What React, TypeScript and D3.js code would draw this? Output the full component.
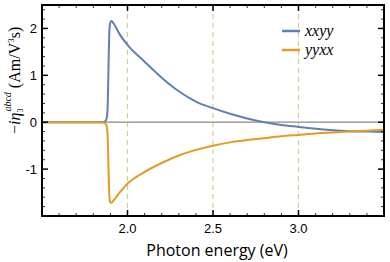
import { useEffect, useRef } from "react";
import * as d3 from "d3";

// photon energy (eV) and the two tensor components
const energy = [1.5, 1.7, 1.84, 1.86, 1.872, 1.88, 1.885, 1.889, 1.893, 1.898, 1.905, 1.92, 1.95, 2.0, 2.1, 2.2, 2.3, 2.4, 2.5, 2.6, 2.7, 2.8, 2.9, 3.0, 3.1, 3.2, 3.3, 3.4, 3.5];
const xxyy = [0, 0, 0, 0.005, 0.03, 0.12, 0.45, 1.2, 1.85, 2.1, 2.16, 2.1, 1.9, 1.65, 1.29, 0.95, 0.66, 0.44, 0.3, 0.18, 0.08, 0.0, -0.06, -0.1, -0.14, -0.17, -0.19, -0.2, -0.21];
const yyxx = [0, 0, 0, -0.005, -0.03, -0.12, -0.4, -1.0, -1.5, -1.7, -1.72, -1.66, -1.52, -1.31, -1.06, -0.87, -0.71, -0.59, -0.5, -0.43, -0.38, -0.34, -0.3, -0.27, -0.24, -0.22, -0.2, -0.18, -0.16];

const xTicks = [2.0, 2.5, 3.0];
const yTicks = [-1, 0, 1, 2];
const legendNames = ["xxyy", "yyxx"];
const colors = ["#5e81b5", "#e19c24"];

export default function App() {
  const ref = useRef<SVGSVGElement | null>(null);
  const width = 390;
  const height = 262;
  const m = { top: 5, right: 6, bottom: 46, left: 42 };

  useEffect(() => {
    const svg = d3.select(ref.current);
    svg.selectAll("*").remove();

    const x = d3.scaleLinear().domain([1.5, 3.5]).range([m.left, width - m.right]);
    const y = d3.scaleLinear().domain([-2, 2.5]).range([height - m.bottom, m.top]);
    const x0 = m.left, x1 = width - m.right, y0 = height - m.bottom, y1 = m.top;

    // dashed guides
    svg.selectAll(".guide")
      .data(xTicks)
      .join("line")
      .attr("x1", (d) => x(d)).attr("x2", (d) => x(d))
      .attr("y1", y1).attr("y2", y0)
      .attr("stroke", "#cfcf95")
      .attr("stroke-width", 1.2)
      .attr("stroke-dasharray", "5,4");

    // zero line
    svg.append("line")
      .attr("x1", x0).attr("x2", x1)
      .attr("y1", y(0)).attr("y2", y(0))
      .attr("stroke", "#8a8a8a")
      .attr("stroke-width", 1.2);

    const line = d3.line<[number, number]>()
      .x((d) => x(d[0]))
      .y((d) => y(d[1]))
      .curve(d3.curveMonotoneX);

    [xxyy, yyxx].forEach((s, i) => {
      svg.append("path")
        .attr("d", line(energy.map((e, j) => [e, s[j]] as [number, number])))
        .attr("fill", "none")
        .attr("stroke", colors[i])
        .attr("stroke-width", 2);
    });

    // frame ticks, all four sides, pointing in
    const xMinor = d3.range(1.6, 3.45, 0.1).map((v) => +v.toFixed(2));
    const yMinor = d3.range(-1.8, 2.45, 0.2).map((v) => +v.toFixed(2));
    const tk = svg.append("g").attr("stroke", "#000").attr("stroke-width", 1);
    xMinor.forEach((v) => {
      const big = xTicks.some((t) => Math.abs(t - v) < 1e-6);
      const len = big ? 6 : 3;
      tk.append("line").attr("x1", x(v)).attr("x2", x(v)).attr("y1", y0).attr("y2", y0 - len).attr("stroke-width", big ? 1.5 : 0.8);
      tk.append("line").attr("x1", x(v)).attr("x2", x(v)).attr("y1", y1).attr("y2", y1 + len).attr("stroke-width", big ? 1.5 : 0.8);
    });
    yMinor.forEach((v) => {
      const big = yTicks.some((t) => Math.abs(t - v) < 1e-6);
      const len = big ? 6 : 3;
      tk.append("line").attr("x1", x0).attr("x2", x0 + len).attr("y1", y(v)).attr("y2", y(v)).attr("stroke-width", big ? 1.5 : 0.8);
      tk.append("line").attr("x1", x1).attr("x2", x1 - len).attr("y1", y(v)).attr("y2", y(v)).attr("stroke-width", big ? 1.5 : 0.8);
    });

    svg.append("rect")
      .attr("x", x0).attr("y", y1)
      .attr("width", x1 - x0).attr("height", y0 - y1)
      .attr("fill", "none")
      .attr("stroke", "#000")
      .attr("stroke-width", 2);

    // tick labels
    svg.selectAll(".xl")
      .data(xTicks)
      .join("text")
      .attr("x", (d) => x(d)).attr("y", y0 + 17)
      .attr("text-anchor", "middle")
      .style("font-family", "Liberation Sans, Arial, sans-serif")
      .style("font-size", "13px")
      .text((d) => d.toFixed(1));
    svg.selectAll(".yl")
      .data(yTicks)
      .join("text")
      .attr("x", x0 - 5).attr("y", (d) => y(d) + 5)
      .attr("text-anchor", "end")
      .style("font-family", "Liberation Sans, Arial, sans-serif")
      .style("font-size", "13px")
      .text((d) => (d < 0 ? "-" + Math.abs(d) : String(d)));

    svg.append("text")
      .attr("x", (x0 + x1) / 2 + 4).attr("y", 256)
      .attr("text-anchor", "middle")
      .style("font-family", "Open Sans, sans-serif")
      .style("font-size", "16px")
      .text("Photon energy (eV)");

    // y label, rotated
    const yl = svg.append("text")
      .attr("transform", "translate(20,134) rotate(-90)")
      .style("font-family", "Liberation Serif, Times New Roman, serif")
      .style("font-size", "16px");
    yl.append("tspan").text("\u2212");
    yl.append("tspan").style("font-style", "italic").text("i");
    yl.append("tspan").style("font-style", "italic").text("η");
    yl.append("tspan").attr("dy", 3).style("font-size", "8px").text("3");
    yl.append("tspan").attr("dx", -3).attr("dy", -12).style("font-size", "10px").style("font-style", "italic").text("abcd");
    yl.append("tspan").attr("dy", 9).text(" (Am/V");
    yl.append("tspan").attr("dy", -6).style("font-size", "9px").text("3");
    yl.append("tspan").attr("dy", 6).text("s)");

    // legend
    legendNames.forEach((n, i) => {
      const ly = 31 + i * 19;
      svg.append("line")
        .attr("x1", 282).attr("x2", 300)
        .attr("y1", ly).attr("y2", ly)
        .attr("stroke", colors[i])
        .attr("stroke-width", 2.5);
      svg.append("text")
        .attr("x", 305).attr("y", ly + 5)
        .style("font-family", "Liberation Serif, Times New Roman, serif")
        .style("font-style", "italic")
        .style("font-size", "16px")
        .text(n);
    });
  }, []);

  return (
    <svg
      ref={ref}
      width={width}
      height={height}
      style={{ position: "absolute", left: 0, top: 0, background: "#fff" }}
    />
  );
}
